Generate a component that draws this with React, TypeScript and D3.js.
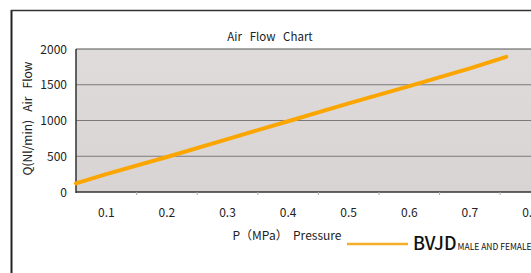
import * as d3 from 'd3';
import { useRef, useEffect } from 'react';

// Datos
const pressure = [0.05, 0.1, 0.2, 0.3, 0.4, 0.5, 0.6, 0.7, 0.76];
const airFlow = [120, 250, 490, 740, 990, 1240, 1480, 1730, 1890];
const xTicks = [0.1, 0.2, 0.3, 0.4, 0.5, 0.6, 0.7, 0.8];
const xMinorTicks = [0.15, 0.25, 0.35, 0.45, 0.55, 0.65, 0.75];
const yTicks = [0, 500, 1000, 1500, 2000];

const FONT = '"Noto Sans CJK JP", "Noto Sans", sans-serif';

export default function App() {
  const svgRef = useRef<SVGSVGElement | null>(null);

  useEffect(() => {
    const width = 531;
    const height = 273;
    const margin = { top: 49, left: 76, bottom: 81 };
    const plotBottom = height - margin.bottom;

    const x = d3.scaleLinear().domain([0.05, 0.85]).range([margin.left, margin.left + 8 * 60.6]);
    const y = d3.scaleLinear().domain([0, 2000]).range([plotBottom, margin.top]);

    d3.select(svgRef.current).selectAll('*').remove();
    const svg = d3.select(svgRef.current).attr('width', width).attr('height', height);

    svg.append('rect').attr('width', width).attr('height', height).attr('fill', '#fff');

    // Marco exterior
    svg.append('line').attr('x1', 11.5).attr('x2', 11.5).attr('y1', 10).attr('y2', height)
      .attr('stroke', '#222').attr('stroke-width', 2);
    svg.append('line').attr('x1', 11).attr('x2', width).attr('y1', 10.5).attr('y2', 10.5)
      .attr('stroke', '#333').attr('stroke-width', 1.5);

    // Fondo del área de trazado
    const grad = svg.append('defs').append('linearGradient')
      .attr('id', 'bg').attr('x1', 0).attr('y1', 0).attr('x2', 0).attr('y2', 1);
    grad.append('stop').attr('offset', '0%').attr('stop-color', '#dfdbdb');
    grad.append('stop').attr('offset', '100%').attr('stop-color', '#d8d4d4');

    svg.append('rect')
      .attr('x', margin.left).attr('y', margin.top)
      .attr('width', width - margin.left).attr('height', plotBottom - margin.top)
      .attr('fill', 'url(#bg)');

    // Rejilla
    yTicks.slice(1, -1).forEach((v) => {
      svg.append('line')
        .attr('x1', margin.left).attr('x2', width)
        .attr('y1', y(v)).attr('y2', y(v))
        .attr('stroke', '#7a7878').attr('stroke-width', 1);
    });
    svg.append('line')
      .attr('x1', margin.left).attr('x2', width)
      .attr('y1', y(2000)).attr('y2', y(2000))
      .attr('stroke', '#555').attr('stroke-width', 1.2);

    // Ejes
    svg.append('line')
      .attr('x1', margin.left).attr('x2', margin.left)
      .attr('y1', margin.top).attr('y2', plotBottom + 1)
      .attr('stroke', '#333').attr('stroke-width', 1.5);
    svg.append('line')
      .attr('x1', margin.left).attr('x2', width)
      .attr('y1', plotBottom).attr('y2', plotBottom)
      .attr('stroke', '#333').attr('stroke-width', 1.5);

    xMinorTicks.forEach((v) => {
      svg.append('line')
        .attr('x1', x(v)).attr('x2', x(v))
        .attr('y1', plotBottom).attr('y2', plotBottom + 3)
        .attr('stroke', '#aaa').attr('stroke-width', 1);
    });

    // Etiquetas
    yTicks.forEach((v) => {
      svg.append('text')
        .attr('x', 67).attr('y', y(v) + 4.5)
        .attr('text-anchor', 'end')
        .attr('font-family', FONT).attr('font-size', 12).attr('fill', '#222')
        .text(v);
    });
    xTicks.forEach((v) => {
      svg.append('text')
        .attr('x', x(v)).attr('y', 217)
        .attr('text-anchor', 'middle')
        .attr('font-family', FONT).attr('font-size', 12).attr('fill', '#222')
        .text(v.toFixed(1));
    });

    svg.append('text')
      .attr('x', 270).attr('y', 41)
      .attr('text-anchor', 'middle')
      .attr('font-family', FONT).attr('font-size', 11.5).attr('fill', '#222')
      .style('white-space', 'pre')
      .text('Air   Flow   Chart');

    svg.append('text')
      .attr('x', 287).attr('y', 240)
      .attr('text-anchor', 'middle')
      .attr('font-family', FONT).attr('font-size', 12).attr('fill', '#222')
      .style('white-space', 'pre')
      .text('P（MPa）  Pressure');

    svg.append('text')
      .attr('transform', `translate(32,${(margin.top + plotBottom) / 2 - 2}) rotate(-90)`)
      .attr('text-anchor', 'middle')
      .attr('font-family', FONT).attr('font-size', 12).attr('fill', '#222')
      .style('white-space', 'pre')
      .text('Q(Nl/min)   Air   Flow');

    // Serie
    const line = d3.line<number>()
      .x((_, i) => x(pressure[i]))
      .y((d) => y(d));
    svg.append('path')
      .datum(airFlow)
      .attr('d', line)
      .attr('fill', 'none')
      .attr('stroke', '#fba600')
      .attr('stroke-width', 4)
      .attr('stroke-linecap', 'round');

    // Leyenda
    svg.append('line')
      .attr('x1', 347).attr('x2', 408).attr('y1', 244).attr('y2', 244)
      .attr('stroke', '#f5ae2a').attr('stroke-width', 2.5);
    const leg = svg.append('text')
      .attr('x', 413).attr('y', 250)
      .attr('font-family', FONT).attr('fill', '#111');
    leg.append('tspan').attr('font-size', 18).attr('font-weight', 500).text('BVJD');
    leg.append('tspan').attr('font-size', 8.5).attr('dx', 1).text('MALE AND FEMALE');
  }, []);

  return <svg ref={svgRef} style={{ position: 'absolute', left: 0, top: 0 }} />;
}
